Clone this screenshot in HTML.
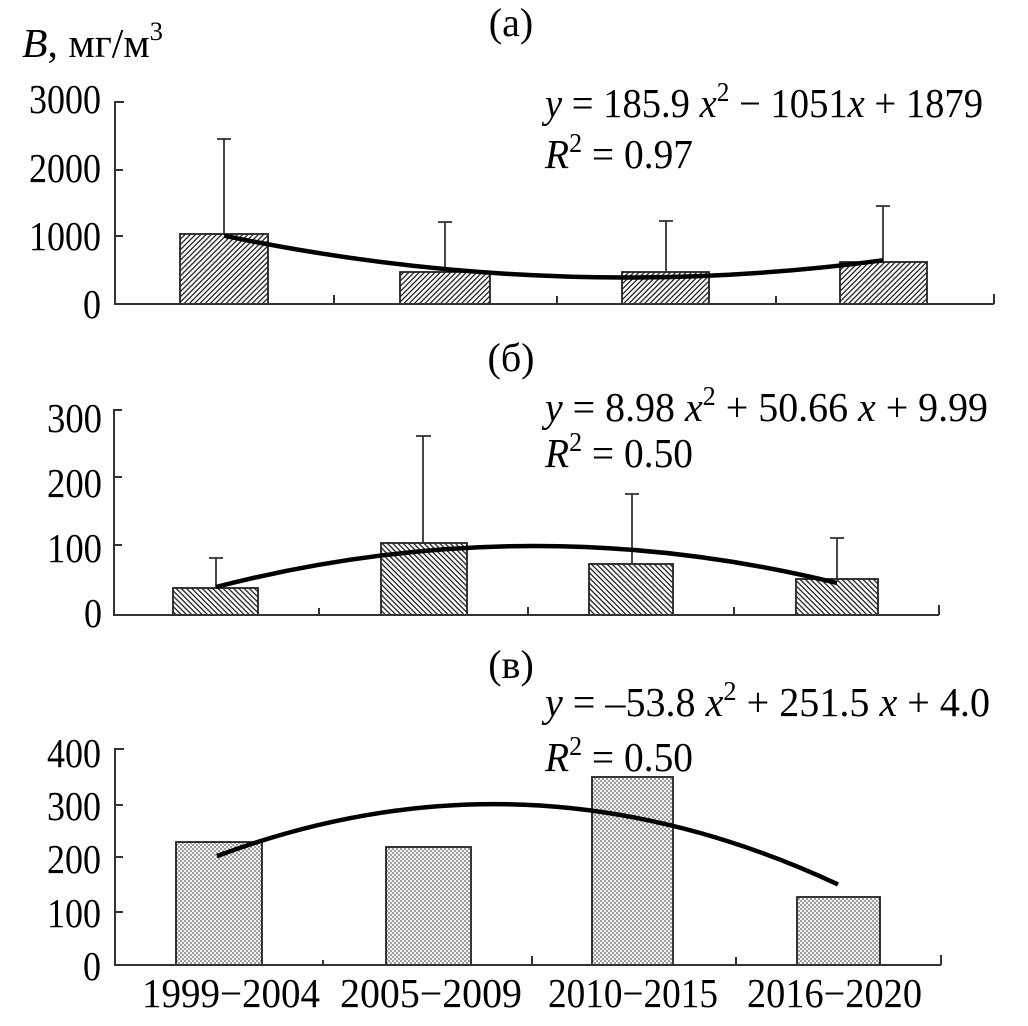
<!DOCTYPE html>
<html>
<head>
<meta charset="utf-8">
<style>
  html, body { margin: 0; padding: 0; background: #fff; }
  svg { display: block; }
  text { font-family: "Liberation Serif", "DejaVu Serif", serif; fill: #000; }
</style>
</head>
<body>
<svg width="1028" height="1026" viewBox="0 0 1028 1026" xmlns="http://www.w3.org/2000/svg">
  <defs>
    <pattern id="hA" patternUnits="userSpaceOnUse" width="3.7" height="10" patternTransform="rotate(45)">
      <rect width="3.7" height="10" fill="#fff"/>
      <line x1="0.7" y1="0" x2="0.7" y2="10" stroke="#1a1a1a" stroke-width="1.25"/>
    </pattern>
    <pattern id="hB" patternUnits="userSpaceOnUse" width="3.7" height="10" patternTransform="rotate(-45)">
      <rect width="3.7" height="10" fill="#fff"/>
      <line x1="0.7" y1="0" x2="0.7" y2="10" stroke="#1a1a1a" stroke-width="1.25"/>
    </pattern>
    <pattern id="dots" patternUnits="userSpaceOnUse" width="4" height="4">
      <rect width="4" height="4" fill="#f2f2f2"/>
      <circle cx="1" cy="1" r="0.85" fill="#5a5a5a"/>
      <circle cx="3" cy="3" r="0.85" fill="#5a5a5a"/>
    </pattern>
  </defs>

  <rect width="1028" height="1026" fill="#fff"/>

  <!-- ========== Panel (а) ========== -->
  <text x="22" y="57" font-size="41" textLength="141" lengthAdjust="spacingAndGlyphs"><tspan font-style="italic">B</tspan>, мг/м<tspan font-size="26" dy="-17">3</tspan></text>
  <text x="511" y="36" font-size="40" text-anchor="middle">(а)</text>

  <!-- y tick labels -->
  <g font-size="41" text-anchor="end">
    <text x="101" y="113" textLength="72" lengthAdjust="spacingAndGlyphs">3000</text>
    <text x="101" y="182" textLength="72" lengthAdjust="spacingAndGlyphs">2000</text>
    <text x="101" y="250" textLength="72" lengthAdjust="spacingAndGlyphs">1000</text>
    <text x="101" y="318" textLength="18" lengthAdjust="spacingAndGlyphs">0</text>
  </g>

  <!-- bars -->
  <g stroke="#222" stroke-width="1.8">
    <rect x="180" y="234" width="88" height="70" fill="url(#hA)"/>
    <rect x="400" y="272" width="90" height="32" fill="url(#hA)"/>
    <rect x="622" y="272" width="87" height="32" fill="url(#hA)"/>
    <rect x="840" y="262" width="87" height="42" fill="url(#hA)"/>
  </g>

  <!-- error bars -->
  <g stroke="#333" stroke-width="1.8" fill="none">
    <line x1="224" y1="234" x2="224" y2="139"/><line x1="217" y1="139" x2="231" y2="139"/>
    <line x1="445" y1="272" x2="445" y2="222"/><line x1="438" y1="222" x2="452" y2="222"/>
    <line x1="666" y1="272" x2="666" y2="221"/><line x1="659" y1="221" x2="673" y2="221"/>
    <line x1="883" y1="262" x2="883" y2="206"/><line x1="876" y1="206" x2="890" y2="206"/>
  </g>

  <!-- axes -->
  <g stroke="#333" stroke-width="2" fill="none">
    <polyline points="124,102 115,102 115,304 994,304"/>
    <line x1="115" y1="170" x2="123" y2="170"/>
    <line x1="115" y1="236" x2="123" y2="236"/>
    <line x1="334" y1="304" x2="334" y2="295"/>
    <line x1="557" y1="304" x2="557" y2="296"/>
    <line x1="776" y1="304" x2="776" y2="296"/>
    <line x1="994" y1="304" x2="994" y2="294"/>
  </g>

  <!-- trend -->
  <path d="M224,235.7 Q553.5,304.3 883,260.3" stroke="#000" stroke-width="4.5" fill="none"/>

  <!-- equation -->
  <text x="545" y="117" font-size="41" textLength="438" lengthAdjust="spacingAndGlyphs"><tspan font-style="italic">y</tspan> = 185.9 <tspan font-style="italic">x</tspan><tspan font-size="27" dy="-16">2</tspan><tspan dy="16"> − 1051</tspan><tspan font-style="italic">x</tspan> + 1879</text>
  <text x="545" y="168" font-size="41" textLength="148" lengthAdjust="spacingAndGlyphs"><tspan font-style="italic">R</tspan><tspan font-size="27" dy="-16">2</tspan><tspan dy="16"> = 0.97</tspan></text>

  <!-- ========== Panel (б) ========== -->
  <text x="511" y="371" font-size="40" text-anchor="middle">(б)</text>

  <g font-size="41" text-anchor="end">
    <text x="102" y="432" textLength="55" lengthAdjust="spacingAndGlyphs">300</text>
    <text x="102" y="497" textLength="55" lengthAdjust="spacingAndGlyphs">200</text>
    <text x="102" y="562" textLength="55" lengthAdjust="spacingAndGlyphs">100</text>
    <text x="102" y="627" textLength="18" lengthAdjust="spacingAndGlyphs">0</text>
  </g>

  <g stroke="#222" stroke-width="1.8">
    <rect x="173" y="588" width="85" height="27" fill="url(#hB)"/>
    <rect x="381" y="543" width="86" height="72" fill="url(#hB)"/>
    <rect x="589" y="564" width="84" height="51" fill="url(#hB)"/>
    <rect x="796" y="579" width="82" height="36" fill="url(#hB)"/>
  </g>

  <g stroke="#333" stroke-width="1.8" fill="none">
    <line x1="216" y1="588" x2="216" y2="558"/><line x1="209" y1="558" x2="223" y2="558"/>
    <line x1="423" y1="543" x2="423" y2="436"/><line x1="416" y1="436" x2="431" y2="436"/>
    <line x1="632" y1="564" x2="632" y2="494"/><line x1="625" y1="494" x2="639" y2="494"/>
    <line x1="837" y1="579" x2="837" y2="538"/><line x1="830" y1="538" x2="844" y2="538"/>
  </g>

  <g stroke="#333" stroke-width="2" fill="none">
    <polyline points="122,410 114,410 114,615 939,615"/>
    <line x1="114" y1="477" x2="122" y2="477"/>
    <line x1="114" y1="545" x2="122" y2="545"/>
    <line x1="319" y1="615" x2="319" y2="608"/>
    <line x1="528" y1="615" x2="528" y2="607"/>
    <line x1="734" y1="615" x2="734" y2="607"/>
    <line x1="939" y1="615" x2="939" y2="605"/>
  </g>

  <path d="M216,587 Q526.5,507 837,583" stroke="#000" stroke-width="4.5" fill="none"/>

  <text x="545" y="421" font-size="41" textLength="443" lengthAdjust="spacingAndGlyphs"><tspan font-style="italic">y</tspan> = 8.98 <tspan font-style="italic">x</tspan><tspan font-size="27" dy="-16">2</tspan><tspan dy="16"> + 50.66 </tspan><tspan font-style="italic">x</tspan> + 9.99</text>
  <text x="545" y="467" font-size="41" textLength="148" lengthAdjust="spacingAndGlyphs"><tspan font-style="italic">R</tspan><tspan font-size="27" dy="-16">2</tspan><tspan dy="16"> = 0.50</tspan></text>

  <!-- ========== Panel (в) ========== -->
  <text x="511" y="678" font-size="40" text-anchor="middle">(в)</text>

  <g font-size="41" text-anchor="end">
    <text x="101" y="767" textLength="54" lengthAdjust="spacingAndGlyphs">400</text>
    <text x="101" y="820" textLength="54" lengthAdjust="spacingAndGlyphs">300</text>
    <text x="101" y="873" textLength="54" lengthAdjust="spacingAndGlyphs">200</text>
    <text x="101" y="927" textLength="54" lengthAdjust="spacingAndGlyphs">100</text>
    <text x="101" y="980" textLength="18" lengthAdjust="spacingAndGlyphs">0</text>
  </g>

  <g stroke="#222" stroke-width="1.8">
    <rect x="176" y="842" width="86" height="123" fill="url(#dots)"/>
    <rect x="386" y="847" width="85" height="118" fill="url(#dots)"/>
    <rect x="592" y="777" width="81" height="188" fill="url(#dots)"/>
    <rect x="797" y="897" width="83" height="68" fill="url(#dots)"/>
  </g>

  <g stroke="#333" stroke-width="2" fill="none">
    <polyline points="124,749 115,749 115,965 941,965"/>
    <line x1="115" y1="805" x2="123" y2="805"/>
    <line x1="115" y1="857" x2="123" y2="857"/>
    <line x1="115" y1="912" x2="123" y2="912"/>
    <line x1="323" y1="965" x2="323" y2="960"/>
    <line x1="532" y1="965" x2="532" y2="956"/>
    <line x1="736" y1="965" x2="736" y2="957"/>
    <line x1="941" y1="965" x2="941" y2="955"/>
  </g>

  <path d="M217,856.1 Q527.5,739.5 838,884.4" stroke="#000" stroke-width="4.5" fill="none"/>

  <text x="545" y="716" font-size="41" textLength="445" lengthAdjust="spacingAndGlyphs"><tspan font-style="italic">y</tspan> = –53.8 <tspan font-style="italic">x</tspan><tspan font-size="27" dy="-16">2</tspan><tspan dy="16"> + 251.5 </tspan><tspan font-style="italic">x</tspan> + 4.0</text>
  <text x="545" y="771" font-size="41" textLength="148" lengthAdjust="spacingAndGlyphs"><tspan font-style="italic">R</tspan><tspan font-size="27" dy="-16">2</tspan><tspan dy="16"> = 0.50</tspan></text>

  <!-- x labels -->
  <g font-size="41">
    <text x="142" y="1007" textLength="178" lengthAdjust="spacingAndGlyphs">1999−2004</text>
    <text x="340" y="1007" textLength="182" lengthAdjust="spacingAndGlyphs">2005−2009</text>
    <text x="548" y="1007" textLength="170" lengthAdjust="spacingAndGlyphs">2010−2015</text>
    <text x="747" y="1007" textLength="175" lengthAdjust="spacingAndGlyphs">2016−2020</text>
  </g>
</svg>
</body>
</html>
